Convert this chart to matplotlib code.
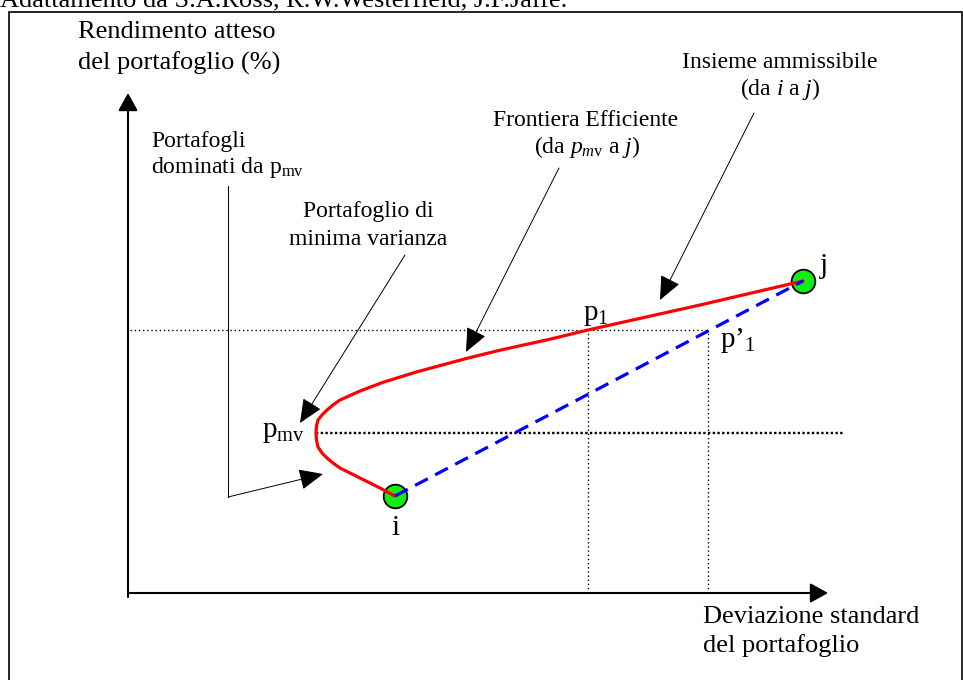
import matplotlib
matplotlib.use('Agg')
import matplotlib.pyplot as plt
from matplotlib.patches import Rectangle

# ---------------- data (standard deviation, expected return) ----------------
sigma_frontier = [8.900, 8.400, 8.067, 7.733, 7.400, 7.067, 6.833, 6.633, 6.467,
                  6.333, 6.283, 6.267, 6.283, 6.333, 6.467, 6.633, 6.833, 7.067,
                  7.400, 7.733, 8.500, 9.633, 11.300, 12.400, 14.067, 15.333,
                  19.067, 22.500]
ret_frontier = [3.233, 3.500, 3.667, 3.833, 4.000, 4.167, 4.333, 4.500, 4.667,
                4.867, 5.100, 5.333, 5.567, 5.767, 5.933, 6.100, 6.267, 6.433,
                6.583, 6.733, 7.023, 7.373, 7.823, 8.093, 8.460, 8.767,
                9.600, 10.400]
asset_names = ['i', 'j']
asset_sigma = [8.90, 22.50]
asset_ret = [3.233, 10.40]
pmv_sigma, pmv_ret = 6.267, 5.333
p1_sigma, p1_ret = 15.333, 8.767
p1b_sigma, p1b_ret = 19.333, 8.767

title = "Adattamento da S.A.Ross, R.W.Westerfield, J.F.Jaffe."
ylabel_lines = ["Rendimento atteso", "del portafoglio (%)"]
xlabel_lines = ["Deviazione standard", "del portafoglio"]

# ---------------- style ----------------
plt.rcParams['font.family'] = ['Liberation Serif', 'DejaVu Serif']
plt.rcParams['mathtext.fontset'] = 'custom'
plt.rcParams['mathtext.rm'] = 'Liberation Serif'
plt.rcParams['mathtext.it'] = 'Liberation Serif:italic'

W, H = 963, 680
OX, OY, S = 128, 593, 30.0   # origin pixel and pixels per unit


def P(px, py):
    return ((px - OX) / S, (OY - py) / S)


fig = plt.figure(figsize=(W / 100, H / 100), dpi=100)
ax = fig.add_axes([0, 0, 1, 1])
ax.set_xlim(-OX / S, (W - OX) / S)
ax.set_ylim((OY - H) / S, OY / S)
ax.axis('off')

# border
x0, y0 = P(9.5, 12.5)
x1, y1 = P(962, 700)
ax.add_patch(Rectangle((x0, y1), x1 - x0, y0 - y1, fill=False, lw=1.2,
                       ec='black', zorder=1))

# title (partially cut at top, as in the source)
ax.text(*P(0, 7), title, fontsize=19, ha='left', va='baseline')

# axes arrows
axis_arrow = dict(arrowstyle='-|>,head_length=0.54,head_width=0.3',
                  mutation_scale=20, lw=1.5, color='black',
                  shrinkA=0, shrinkB=0)
ax.annotate('', xy=P(128, 93), xytext=P(128, 597), arrowprops=axis_arrow)
ax.annotate('', xy=P(828, 593), xytext=P(130, 593), arrowprops=axis_arrow)

# axis labels
ax.text(*P(78, 38), ylabel_lines[0], fontsize=19, ha='left', va='baseline')
ax.text(*P(78, 70), ylabel_lines[1], fontsize=19, ha='left', va='baseline')
ax.text(*P(703, 623), xlabel_lines[0], fontsize=19, ha='left', va='baseline')
ax.text(*P(703, 652), xlabel_lines[1], fontsize=19, ha='left', va='baseline')

# reference dotted lines
ax.plot([0.07, p1b_sigma], [p1_ret, p1_ret], color='black', lw=1.0,
        ls=(0, (1, 2)), zorder=2)
ax.plot([p1_sigma, p1_sigma], [0, p1_ret], color='black', lw=1.0,
        ls=(0, (1, 2)), zorder=2)
ax.plot([p1b_sigma, p1b_sigma], [0, p1b_ret], color='black', lw=1.0,
        ls=(0, (1, 2)), zorder=2)
ax.plot([pmv_sigma, P(843, 0)[0]], [pmv_ret, pmv_ret], color='black', lw=1.7,
        ls=(0, (1, 1)), zorder=2)

# assets
ax.plot(asset_sigma, asset_ret, 'o', ms=17, mfc='#11ee11', mec='black',
        mew=1.3, zorder=3, ls='none')
# feasible set (frontier) and combination line
ax.plot(sigma_frontier, ret_frontier, color='#ff0000', lw=2.3, zorder=4,
        solid_capstyle='round', solid_joinstyle='round')
ax.plot(asset_sigma, asset_ret, color='#0000ff', lw=2.3, ls=(0, (4.5, 2.6)),
        zorder=5)

# point labels
ax.text(*P(262, 437), r'p$_{\mathrm{mv}}$', fontsize=21, ha='left', va='baseline')
ax.text(*P(583, 320), r'p$_{1}$', fontsize=21, ha='left', va='baseline')
ax.text(*P(720, 347), r'p’$_{1}$', fontsize=21, ha='left', va='baseline')
ax.text(*P(820, 273), asset_names[1], fontsize=21, ha='left', va='baseline')
ax.text(*P(395, 535), asset_names[0], fontsize=21, ha='center', va='baseline')

# annotations
ann_arrow = dict(arrowstyle='-|>,head_length=0.75,head_width=0.33',
                 mutation_scale=20, lw=0.7, color='black',
                 shrinkA=0, shrinkB=0)

ax.text(*P(151, 147), 'Portafogli', fontsize=17, ha='left', va='baseline')
ax.text(*P(151, 173), r'dominati da p$_{\mathrm{mv}}$', fontsize=17,
        ha='left', va='baseline')
ax.plot(*zip(P(228, 186), P(228, 497)), color='black', lw=0.7, zorder=2)
ax.annotate('', xy=P(323, 474), xytext=P(228, 497), arrowprops=ann_arrow)

ax.text(*P(368, 217), 'Portafoglio di', fontsize=17, ha='center', va='baseline')
ax.text(*P(368, 245), 'minima varianza', fontsize=17, ha='center', va='baseline')
ax.annotate('', xy=P(300, 423), xytext=P(405, 255), arrowprops=ann_arrow)

ax.text(*P(586, 126), 'Frontiera Efficiente', fontsize=17, ha='center',
        va='baseline')
ax.text(*P(587, 153), r'(da $\mathit{p}_{\mathit{m}\mathrm{v}}$ a $\mathit{j}$)',
        fontsize=17, ha='center', va='baseline')
ax.annotate('', xy=P(466, 352), xytext=P(559, 168), arrowprops=ann_arrow)

ax.text(*P(780, 68), 'Insieme ammissibile', fontsize=17, ha='center',
        va='baseline')
ax.text(*P(780, 95), r'(da $\mathit{i}$ a $\mathit{j}$)', fontsize=17,
        ha='center', va='baseline')
ax.annotate('', xy=P(660, 300), xytext=P(754, 113), arrowprops=ann_arrow)

fig.savefig('out.png', dpi=100)
